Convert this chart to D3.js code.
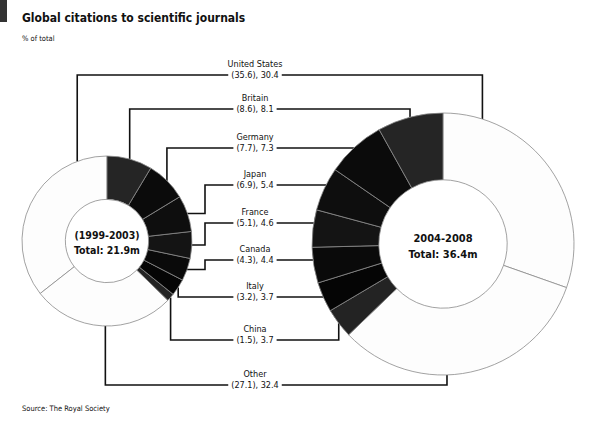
<!DOCTYPE html>
<html>
<head>
<meta charset="utf-8">
<script src="https://cdn.jsdelivr.net/npm/d3@7"></script>
<style>
  body { margin: 0; background: #fff; }
  svg text { font-family: "Liberation Sans Narrow", "DejaVu Sans Condensed", "Liberation Sans", sans-serif; fill: #111; }
</style>
</head>
<body>
<div id="chart"></div>
<script>
// data, % of global citations
var countries = ["United States", "Britain", "Germany", "Japan", "France", "Canada", "Italy", "China", "Other"];
var share1999 = [35.6, 8.6, 7.7, 6.9, 5.1, 4.3, 3.2, 1.5, 27.1];
var share2004 = [30.4, 8.1, 7.3, 5.4, 4.6, 4.4, 3.7, 3.7, 32.4];
var periods = ["(1999-2003)", "2004-2008"];
var totals = ["Total: 21.9m", "Total: 36.4m"];

// order of slices going round from 12 o'clock
var sliceOrder = [0, 8, 7, 6, 5, 4, 3, 2, 1];
var fills = ["#fdfdfd", "#252525", "#0b0b0b", "#0e0e0e", "#141414", "#0a0a0a", "#050505", "#232323", "#fdfdfd"];

// layout of the labels and the leader lines
var labelY = [75, 109, 148, 185, 223, 260, 297, 340, 385];
var leftMode = ["v", "v", "v", "e", "e", "e", "v", "v", "v"];
var leftFrac = [0.16, 0.5, 0.5, 0.5, 0.5, 0.5, 0.5, 0.5, 0.52];
var rightMode = ["v", "v", "h", "h", "h", "h", "h", "v", "v"];
var rightFrac = [0.16, 0.5, 0.5, 0.5, 0.5, 0.5, 0.5, 0.5, 0.59];
var elbowX = 205, labelX = 255;

var width = 595, height = 421;
var svg = d3.select("#chart").append("svg")
    .attr("width", width)
    .attr("height", height);

// little tag + titles
svg.append("rect").attr("x", 0).attr("y", 0).attr("width", 7).attr("height", 22).attr("fill", "#333");
svg.append("text").text("Global citations to scientific journals")
    .attr("x", 22).attr("y", 22).style("font-size", "12px").style("font-weight", "bold");
svg.append("text").text("% of total")
    .attr("x", 22).attr("y", 41).style("font-size", "7.5px");
svg.append("text").text("Source: The Royal Society")
    .attr("x", 22).attr("y", 411).style("font-size", "7.5px");

var donuts = [
    {cx: 107, cy: 241, R: 85, values: share1999, dir: -1, frac: leftFrac},
    {cx: 443, cy: 244, R: 131, values: share2004, dir: 1, frac: rightFrac}
];

donuts.forEach(function(d) {
    var pie = d3.pie().sort(null).value(function(i) { return d.values[i]; })
        .startAngle(0).endAngle(d.dir * 2 * Math.PI);
    d.arcs = pie(sliceOrder);
    d.byCountry = {};
    d.arcs.forEach(function(a) { d.byCountry[a.data] = a; });
});

function anchor(d, i) {
    var a = d.byCountry[i];
    var t = a.startAngle + (a.endAngle - a.startAngle) * d.frac[i];
    return [d.cx + d.R * Math.sin(t), d.cy - d.R * Math.cos(t)];
}

var line = d3.line();
var gLabels = svg.append("g");

countries.forEach(function(name, i) {
    var y = labelY[i];
    gLabels.append("text").text(name)
        .attr("x", labelX).attr("y", y - 8)
        .attr("text-anchor", "middle").style("font-size", "9px");
    var val = gLabels.append("text").text("(" + share1999[i].toFixed(1) + "), " + share2004[i].toFixed(1))
        .attr("x", labelX).attr("y", y + 3)
        .attr("text-anchor", "middle").style("font-size", "9px");
    var w = val.node().getComputedTextLength();

    // left leader
    var L = donuts[0], P = anchor(L, i), pts;
    if (leftMode[i] == "e") {
        pts = [P, [elbowX, P[1]], [elbowX, y], [labelX - w / 2 - 3, y]];
    } else {
        pts = [P, [P[0], y], [labelX - w / 2 - 3, y]];
    }
    svg.append("path").attr("d", line(pts))
        .attr("fill", "none").attr("stroke", "#111").attr("stroke-width", 1.6);

    // right leader
    var Rd = donuts[1], Q;
    if (rightMode[i] == "h") {
        var xe = Rd.cx - Math.sqrt(Rd.R * Rd.R - (y - Rd.cy) * (y - Rd.cy));
        pts = [[labelX + w / 2 + 3, y], [xe, y]];
    } else {
        Q = anchor(Rd, i);
        pts = [[labelX + w / 2 + 3, y], [Q[0], y], Q];
    }
    svg.append("path").attr("d", line(pts))
        .attr("fill", "none").attr("stroke", "#111").attr("stroke-width", 1.6);
});

// the two rings
donuts.forEach(function(d, k) {
    var arc = d3.arc().innerRadius(d.R * 0.49).outerRadius(d.R);
    var g = svg.append("g").attr("transform", "translate(" + d.cx + "," + d.cy + ")");
    g.selectAll("path.slice")
        .data(d.arcs)
        .enter().append("path")
        .attr("class", "slice")
        .attr("d", arc)
        .attr("fill", function(a) { return fills[a.data]; })
        .attr("stroke", "#8a8a8a")
        .attr("stroke-width", 0.8);
    g.append("text").text(periods[k])
        .attr("text-anchor", "middle").attr("y", -2)
        .style("font-size", k == 0 ? "10.5px" : "11px").style("font-weight", "bold");
    g.append("text").text(totals[k])
        .attr("text-anchor", "middle").attr("y", k == 0 ? 13 : 14)
        .style("font-size", k == 0 ? "10.5px" : "11px").style("font-weight", "bold");
});
</script>
</body>
</html>
